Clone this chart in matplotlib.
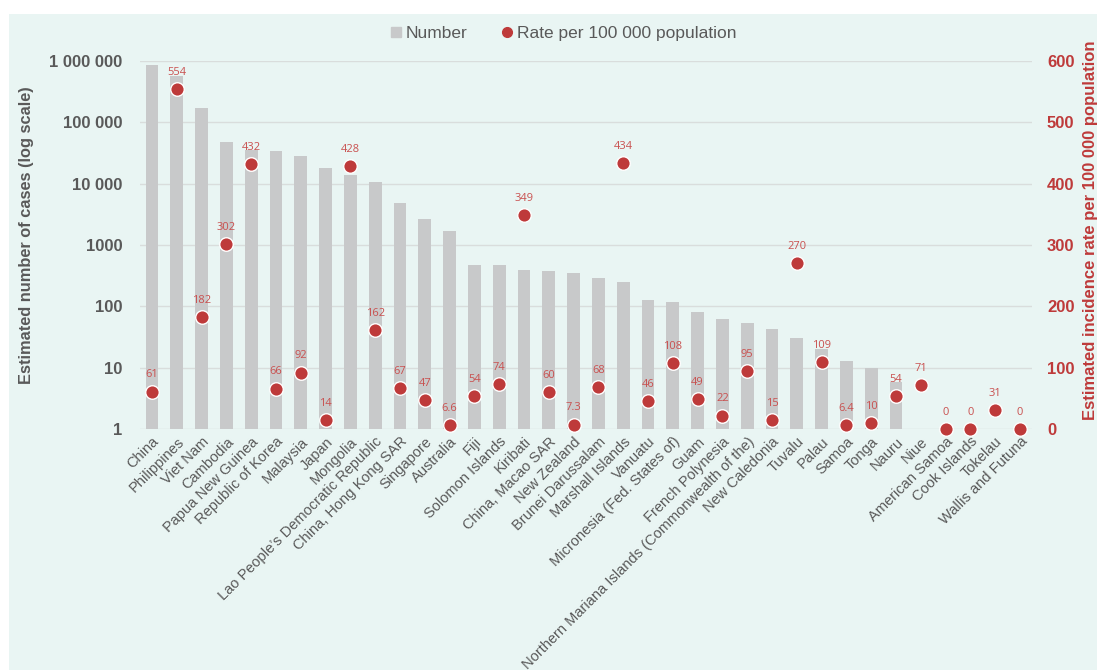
import matplotlib
matplotlib.use("Agg")
import matplotlib.pyplot as plt
from matplotlib.patches import Rectangle
from matplotlib.lines import Line2D
import numpy as np

countries = ["China", "Philippines", "Viet Nam", "Cambodia", "Papua New Guinea",
             "Republic of Korea", "Malaysia", "Japan", "Mongolia",
             "Lao People\u2019s Democratic Republic", "China, Hong Kong SAR",
             "Singapore", "Australia", "Fiji", "Solomon Islands", "Kiribati",
             "China, Macao SAR", "New Zealand", "Brunei Darussalam",
             "Marshall Islands", "Vanuatu", "Micronesia (Fed. States of)", "Guam",
             "French Polynesia", "Northern Mariana Islands (Commonwealth of the)",
             "New Caledonia", "Tuvalu", "Palau", "Samoa", "Tonga", "Nauru", "Niue",
             "American Samoa", "Cook Islands", "Tokelau", "Wallis and Futuna"]

cases = [860000, 560000, 171000, 48000, 36000, 33700, 28600, 17800, 13900,
         10800, 4860, 2670, 1680, 475, 475, 394, 379, 347, 288, 248, 128, 118,
         80, 61, 53, 42.5, 30.7, 20.5, 12.8, 9.9, 5.9, np.nan, np.nan, np.nan,
         np.nan, np.nan]

rate = [61, 554, 182, 302, 432, 66, 92, 14, 428, 162, 67, 47, 6.6, 54, 74, 349,
        60, 7.3, 68, 434, 46, 108, 49, 22, 95, 15, 270, 109, 6.4, 10, 54, 71,
        0, 0, 31, 0]
rate_labels = ["61", "554", "182", "302", "432", "66", "92", "14", "428", "162",
               "67", "47", "6.6", "54", "74", "349", "60", "7.3", "68", "434",
               "46", "108", "49", "22", "95", "15", "270", "109", "6.4", "10",
               "54", "71", "0", "0", "31", "0"]

left_ticks = [1, 10, 100, 1000, 10000, 100000, 1000000]
left_tick_labels = ["1", "10", "100", "1000", "10 000", "100 000", "1 000 000"]
right_ticks = [0, 100, 200, 300, 400, 500, 600]

BG = "#E9F5F3"
BAR = "#C8C9CA"
RED = "#BE3A3A"
LRED = "#C9504F"
GRAY = "#595959"
FONT = "Liberation Sans"

W, H = 1097, 670
fig = plt.figure(figsize=(W / 100, H / 100), dpi=100)
fig.patch.set_facecolor("white")
fig.patches.append(Rectangle((9 / W, 0), 1, (H - 14) / H, transform=fig.transFigure,
                             facecolor=BG, edgecolor="none", zorder=-10))

ax = fig.add_axes([139.6 / W, (H - 429) / H, 892.8 / W, 368 / H])
ax.set_facecolor("none")
x = np.arange(len(countries))
ax.bar(x, cases, width=0.51, color=BAR, zorder=2)
ax.set_yscale("log")
ax.set_ylim(1, 1e6)
ax.set_xlim(-0.5, len(countries) - 0.5)
ax.set_yticks(left_ticks)
ax.set_yticklabels(left_tick_labels)
ax.yaxis.set_minor_locator(matplotlib.ticker.NullLocator())
ax.grid(axis="y", color="#D9DDDC", linewidth=1.0, zorder=0)
ax.set_axisbelow(True)
for s in ax.spines.values():
    s.set_visible(False)
ax.tick_params(axis="both", length=0)
ax.tick_params(axis="y", pad=12.5)
for lab in ax.get_yticklabels():
    lab.set_fontfamily(FONT)
    lab.set_fontweight("bold")
    lab.set_fontsize(12)
    lab.set_color(GRAY)
ax.set_xticks(x)
ax.set_xticklabels(countries, rotation=45, ha="right", rotation_mode="anchor",
                   fontsize=10.5, color=GRAY, fontfamily=FONT)
ax.tick_params(axis="x", pad=4)

ax2 = ax.twinx()
ax2.set_facecolor("none")
ax2.set_ylim(0, 600)
ax2.set_yticks(right_ticks)
for s in ax2.spines.values():
    s.set_visible(False)
ax2.tick_params(axis="y", length=0, pad=10.5)
for lab in ax2.get_yticklabels():
    lab.set_fontfamily(FONT)
    lab.set_fontweight("bold")
    lab.set_fontsize(12)
    lab.set_color(RED)
ax2.scatter(x, rate, s=95, color=RED, edgecolor="white", linewidth=1.0,
            zorder=5, clip_on=False)
for xi, r, t in zip(x, rate, rate_labels):
    ax2.annotate(t, (xi, r), xytext=(0, 8), textcoords="offset points",
                 ha="center", va="bottom", fontsize=8, color=LRED,
                 fontfamily="Open Sans", annotation_clip=False)

fig.text(27 / W, (H - 235) / H, "Estimated number of cases (log scale)", rotation=90,
         ha="center", va="center", fontsize=11.8, fontweight="bold", color=GRAY,
         fontfamily=FONT)
fig.text(1091 / W, (H - 420) / H, "Estimated incidence rate per 100 000 population",
         rotation=90, ha="center", va="bottom", fontsize=12, fontweight="bold",
         color=RED, fontfamily=FONT)

handles = [Line2D([], [], marker="s", linestyle="none", markersize=7.5,
                  markerfacecolor=BAR, markeredgecolor=BAR),
           Line2D([], [], marker="o", linestyle="none", markersize=7,
                  markerfacecolor=RED, markeredgecolor=RED)]
fig.legend(handles, ["Number", "Rate per 100 000 population"], loc="center",
           bbox_to_anchor=(562 / W, (H - 33) / H), ncol=2, frameon=False,
           prop={"family": FONT, "size": 12.5}, labelcolor=GRAY,
           handletextpad=0.05, columnspacing=1.8, handlelength=1.0)

fig.savefig("out.png", dpi=100, facecolor=fig.get_facecolor())
